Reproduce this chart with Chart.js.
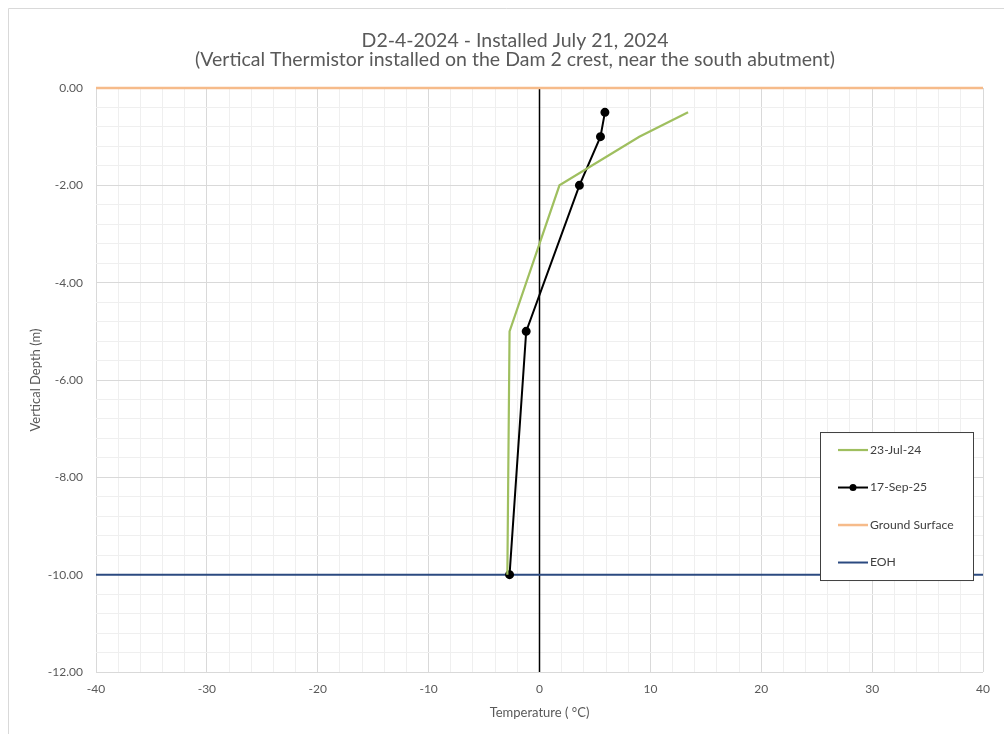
<!DOCTYPE html>
<html>
<head>
<meta charset="utf-8">
<script src="https://cdn.jsdelivr.net/npm/chart.js@4.4.1/dist/chart.umd.min.js"></script>
<style>
  html, body { margin: 0; padding: 0; background: #fff; }
  #wrap { width: 1004px; height: 734px; }
</style>
</head>
<body>
<div id="wrap"><canvas id="thermChart"></canvas></div>
<script>
// depths of the thermistor beads (m) and readings (deg C)
const depths = [-0.5, -1, -2, -5, -10];
const temps2024 = [13.4, 9.0, 1.8, -2.7, -2.9];
const temps2025 = [5.9, 5.5, 3.6, -1.2, -2.7];

// reference lines
const refTemps = [-40, 40];
const groundDepth = [0, 0];
const eohDepth = [-10, -10];

// labelled ticks
const xTickLabels = [-40, -30, -20, -10, 0, 10, 20, 30, 40];
const yTickLabels = [0, -2, -4, -6, -8, -10, -12];

const GREEN = "#9fbf5f";
const ORANGE = "#f6bb8a";
const NAVY = "#2b4a80";
const TXT = "#595959";

const pts = (xs, ys) => xs.map((x, i) => ({ x: x, y: ys[i] }));
const isLabel = (list, v) => list.some((t) => Math.abs(t - v) < 1e-6);

// frame, zero axis line and the boxed legend inside the plot
const extras = {
  id: "extras",
  beforeDatasetsDraw(chart) {
    const { ctx, chartArea, scales } = chart;
    const x0 = scales.x.getPixelForValue(0);
    ctx.save();
    ctx.strokeStyle = "#000";
    ctx.lineWidth = 1.5;
    ctx.beginPath();
    ctx.moveTo(x0, chartArea.top);
    ctx.lineTo(x0, chartArea.bottom);
    ctx.stroke();
    ctx.restore();
  },
  afterDraw(chart) {
    const { ctx, chartArea } = chart;
    ctx.save();
    // outer chart frame
    ctx.strokeStyle = "#d9d9d9";
    ctx.lineWidth = 1;
    ctx.beginPath();
    ctx.moveTo(8.5, chart.height);
    ctx.lineTo(8.5, 8.5);
    ctx.lineTo(chart.width, 8.5);
    ctx.stroke();

    // legend box
    const bx = chartArea.right - 163, by = chartArea.top + 344;
    const bw = 153, bh = 148;
    ctx.fillStyle = "#fff";
    ctx.fillRect(bx, by, bw, bh);
    ctx.strokeStyle = "#404040";
    ctx.strokeRect(bx + 0.5, by + 0.5, bw, bh);

    ctx.font = "12.2px Lato";
    ctx.textBaseline = "middle";
    chart.data.datasets.forEach((ds, i) => {
      const y = by + 18 + i * 37.5;
      ctx.strokeStyle = ds.borderColor;
      ctx.lineWidth = ds.borderWidth;
      ctx.beginPath();
      ctx.moveTo(bx + 18, y);
      ctx.lineTo(bx + 48, y);
      ctx.stroke();
      if (ds.pointRadius > 0) {
        ctx.fillStyle = ds.pointBackgroundColor;
        ctx.beginPath();
        ctx.arc(bx + 33, y, ds.pointRadius, 0, Math.PI * 2);
        ctx.fill();
      }
      ctx.fillStyle = "#404040";
      ctx.fillText(ds.label, bx + 50, y);
    });
    ctx.restore();
  },
};

Chart.defaults.font.family = "Lato";
Chart.defaults.color = TXT;

new Chart(document.getElementById("thermChart"), {
  type: "scatter",
  data: {
    datasets: [
      {
        label: "23-Jul-24",
        data: pts(temps2024, depths),
        showLine: true,
        borderColor: GREEN,
        borderWidth: 2.2,
        pointRadius: 0,
      },
      {
        label: "17-Sep-25",
        data: pts(temps2025, depths),
        showLine: true,
        borderColor: "#000",
        borderWidth: 2,
        pointRadius: 3.5,
        pointBackgroundColor: "#000",
        pointBorderColor: "#000",
      },
      {
        label: "Ground Surface",
        data: pts(refTemps, groundDepth),
        showLine: true,
        borderColor: ORANGE,
        borderWidth: 2.5,
        pointRadius: 0,
        clip: false,
      },
      {
        label: "EOH",
        data: pts(refTemps, eohDepth),
        showLine: true,
        borderColor: NAVY,
        borderWidth: 2,
        pointRadius: 0,
      },
    ],
  },
  options: {
    responsive: true,
    maintainAspectRatio: false,
    animation: false,
    layout: { padding: { left: 47, right: 21, top: 0, bottom: 10 } },
    plugins: {
      legend: { display: false },
      tooltip: { enabled: false },
      title: {
        display: true,
        text: [
          "D2-4-2024 - Installed July 21, 2024",
          "(Vertical Thermistor installed on the Dam 2 crest, near the south abutment)",
        ],
        color: TXT,
        font: { size: 19.5, weight: "normal", lineHeight: 0.975 },
        padding: { top: 31.5, bottom: 18.5 },
      },
    },
    scales: {
      x: {
        type: "linear",
        min: -40,
        max: 40,
        border: { display: false },
        grid: {
          drawTicks: false,
          color: (c) => (isLabel(xTickLabels, c.tick.value) ? "#d9d9d9" : "#efefef"),
        },
        ticks: {
          stepSize: 2,
          autoSkip: false,
          maxRotation: 0,
          padding: 10,
          font: { size: 12 },
          callback: (v) => (isLabel(xTickLabels, v) ? String(Math.round(v)) : ""),
        },
        title: {
          display: true,
          text: "Temperature ( °C)",
          font: { size: 13 },
          padding: { top: 0, bottom: 3 },
        },
        afterFit: (s) => { s.height = 52; },
      },
      y: {
        type: "linear",
        min: -12,
        max: 0,
        border: { display: false },
        grid: {
          drawTicks: false,
          color: (c) => (isLabel(yTickLabels, c.tick.value) ? "#d9d9d9" : "#efefef"),
        },
        ticks: {
          stepSize: 0.4,
          autoSkip: false,
          padding: 13,
          font: { size: 12 },
          callback: (v) => (isLabel(yTickLabels, v) ? v.toFixed(2) : ""),
        },
        title: {
          display: true,
          text: "Vertical Depth (m)",
          font: { size: 13 },
          padding: { top: -18.5, bottom: 0 },
        },
        afterFit: (s) => { s.width = 49; },
      },
    },
  },
  plugins: [extras],
});
</script>
</body>
</html>
